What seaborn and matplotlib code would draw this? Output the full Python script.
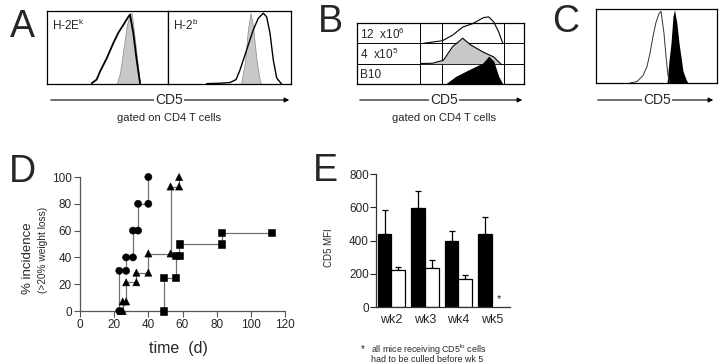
import numpy as np
import pandas as pd
import matplotlib
matplotlib.use("Agg")
import matplotlib.pyplot as plt
import seaborn as sns

# ---- panel A: CD5 histograms (channel 0-100 inside each box, height as fraction of box) ----
a_left_ctrl_ch = [57.6, 60.3, 63.1, 65.8, 68.6, 70.0, 72.7, 75.5, 76.9]
a_left_ctrl_h = [0.0, 0.15, 0.47, 0.79, 0.97, 0.97, 0.60, 0.20, 0.0]
a_left_tg_ch = [36.9, 41.0, 43.8, 49.3, 54.8, 58.9, 63.1, 67.2, 68.6, 71.3, 74.1, 76.9]
a_left_tg_h = [0.01, 0.06, 0.17, 0.35, 0.56, 0.70, 0.81, 0.92, 0.95, 0.70, 0.33, 0.01]

a_right_ctrl_ch = [59.3, 62.6, 65.0, 67.1, 69.1, 71.5, 74.0, 75.6]
a_right_ctrl_h = [0.0, 0.30, 0.75, 0.97, 0.80, 0.40, 0.10, 0.0]
a_right_tg_ch = [31.5, 42.3, 50.4, 55.3, 58.5, 64.0, 69.3, 73.4, 77.5, 80.2, 82.9, 85.6, 88.4, 92.4]
a_right_tg_h = [0.005, 0.01, 0.02, 0.06, 0.19, 0.47, 0.74, 0.90, 0.97, 0.92, 0.70, 0.33, 0.08, 0.0]

a_labels = ["H-2E$^{\\mathregular{k}}$", "H-2$^{\\mathregular{b}}$"]

# ---- panel B: three stacked histograms (height as fraction of one row) ----
b_rows = ["B10", "4  x10$^{\\mathregular{5}}$", "12  x10$^{\\mathregular{6}}$"]
b_hi_ch = [39.8, 51.2, 57.2, 63.3, 69.3, 75.9, 78.9, 81.9, 84.9, 87.3]
b_hi_h = [0.0, 0.13, 0.40, 0.80, 0.97, 1.27, 1.30, 1.05, 0.55, 0.0]
b_lo_ch = [38.0, 45.2, 51.8, 57.2, 63.3, 68.1, 75.3, 81.9, 84.9, 86.1]
b_lo_h = [0.01, 0.02, 0.17, 0.83, 1.25, 0.92, 0.58, 0.33, 0.08, 0.0]
b_b10_ch = [53.0, 59.0, 66.9, 75.3, 78.9, 81.9, 84.9, 87.3]
b_b10_h = [0.0, 0.37, 0.70, 1.03, 1.37, 1.12, 0.37, 0.0]
b_grid_ch = [38.0, 50.6, 88.0]

# ---- panel C ----
c_open_ch = [28.1, 33.9, 38.8, 42.1, 44.6, 47.1, 49.6, 52.1, 53.7, 56.2, 57.9, 59.5, 61.2]
c_open_h = [0.0, 0.02, 0.10, 0.22, 0.40, 0.63, 0.82, 0.94, 0.97, 0.67, 0.35, 0.10, 0.0]
c_fill_ch = [58.7, 60.3, 62.0, 63.6, 64.9, 66.9, 68.6, 71.9, 74.4, 76.0]
c_fill_h = [0.0, 0.30, 0.54, 0.90, 0.99, 0.80, 0.54, 0.16, 0.05, 0.0]

# ---- panel D: incidence curves ----
d_circle_day = [23, 23, 27, 27, 31, 31, 34, 34, 40, 40]
d_circle_pct = [0, 30, 30, 40, 40, 60, 60, 80, 80, 100]
d_tri_day = [24, 25, 25, 27, 27, 33, 33, 40, 40, 53, 53, 58, 58]
d_tri_pct = [0, 0, 7.1, 7.1, 21.4, 21.4, 28.6, 28.6, 42.9, 42.9, 92.9, 92.9, 100]
d_sq_day = [49, 49, 56, 56, 58, 58, 83, 83, 112]
d_sq_pct = [0, 25, 25, 41.7, 41.7, 50, 50, 58.3, 58.3]

# ---- panel E: CD5 MFI ----
e_weeks = ["wk2", "wk3", "wk4", "wk5"]
e_hi = [440, 595, 400, 440]
e_hi_err = [145, 100, 60, 100]
e_lo = [220, 235, 168, np.nan]
e_lo_err = [20, 50, 24, np.nan]

W, H = 720, 364


def px_axes(fig, x0, y0, x1, y1):
    return fig.add_axes([x0 / W, 1 - y1 / H, (x1 - x0) / W, (y1 - y0) / H])


def box_style(ax):
    ax.set_xticks([])
    ax.set_yticks([])
    for s in ax.spines.values():
        s.set_visible(True)
        s.set_linewidth(0.9)
        s.set_color("black")


sns.set_style("white")
plt.rcParams["font.family"] = ["Liberation Sans", "DejaVu Sans"]

fig = plt.figure(figsize=(7.2, 3.64), dpi=100)

ov = fig.add_axes([0, 0, 1, 1])
ov.set_xlim(0, W)
ov.set_ylim(H, 0)
ov.axis("off")

# panel letters
for letter, x, y in [("A", 22, 27), ("B", 330, 22), ("C", 566, 22), ("D", 22, 172), ("E", 325, 171)]:
    ov.text(x, y, letter, fontsize=27, ha="center", va="center")


def cd5_arrow(x0, x1, xc, sub=True):
    ov.annotate("", xy=(x1, 100), xytext=(x0, 100),
                arrowprops=dict(arrowstyle="-|>", color="black", lw=0.8, mutation_scale=7))
    ov.text(xc, 100, "CD5", fontsize=10, ha="center", va="center",
            bbox=dict(facecolor="white", edgecolor="none", pad=1.0))
    if sub:
        ov.text(xc, 118, "gated on CD4 T cells", fontsize=8, ha="center", va="center")


cd5_arrow(48, 292, 169)
cd5_arrow(357, 525, 444)
cd5_arrow(595, 716, 657, sub=False)

# ---- A ----
axA1 = px_axes(fig, 47, 11, 168, 84)
axA1.fill_between(a_left_ctrl_ch, a_left_ctrl_h, color="#c8c8c8", edgecolor="#888888", lw=0.5)
sns.lineplot(x=a_left_tg_ch, y=a_left_tg_h, ax=axA1, color="black", lw=1.3, sort=False, estimator=None)
axA2 = px_axes(fig, 168, 11, 291, 84)
axA2.fill_between(a_right_ctrl_ch, a_right_ctrl_h, color="#c8c8c8", edgecolor="#888888", lw=0.5)
sns.lineplot(x=a_right_tg_ch, y=a_right_tg_h, ax=axA2, color="black", lw=1.0, sort=False, estimator=None)
for ax, lab in zip([axA1, axA2], a_labels):
    ax.set_xlim(0, 100)
    ax.set_ylim(0, 1)
    box_style(ax)
    ax.text(0.04, 0.8, lab, transform=ax.transAxes, fontsize=8.5, ha="left", va="center")

# ---- B ----
axB = px_axes(fig, 357, 23, 524, 84)
axB.set_xlim(0, 100)
axB.set_ylim(0, 3)
box_style(axB)
for g in b_grid_ch:
    axB.axvline(g, color="black", lw=0.7, zorder=0)
for r in [1, 2]:
    axB.axhline(r, color="black", lw=0.7, zorder=0)
axB.plot(b_hi_ch, [2 + v for v in b_hi_h], color="black", lw=0.8, clip_on=False, zorder=3)
axB.fill_between(b_lo_ch, 1, [1 + v for v in b_lo_h], color="#c8c8c8", lw=0, zorder=2)
axB.plot(b_lo_ch, [1 + v for v in b_lo_h], color="black", lw=0.8, zorder=3)
axB.fill_between(b_b10_ch, 0, b_b10_h, color="black", lw=0, zorder=4)
for i, lab in enumerate(b_rows):
    axB.text(2, i + 0.45, lab, fontsize=8.5, ha="left", va="center")

# ---- C ----
axC = px_axes(fig, 596, 9, 717, 83)
axC.set_xlim(0, 100)
axC.set_ylim(0, 1)
box_style(axC)
axC.plot(c_open_ch, c_open_h, color="#333333", lw=0.7)
axC.fill_between(c_fill_ch, 0, c_fill_h, color="black", lw=0)

# ---- D ----
dfD = pd.concat([
    pd.DataFrame({"day": d_circle_day, "pct": d_circle_pct, "group": "circle"}),
    pd.DataFrame({"day": d_tri_day, "pct": d_tri_pct, "group": "tri"}),
    pd.DataFrame({"day": d_sq_day, "pct": d_sq_pct, "group": "sq"}),
], ignore_index=True)
axD = px_axes(fig, 80, 177, 285, 311)
sns.lineplot(data=dfD, x="day", y="pct", units="group", estimator=None, sort=False,
             color="#707070", lw=0.9, ax=axD)
sns.scatterplot(data=dfD, x="day", y="pct", style="group",
                markers={"circle": "o", "tri": "^", "sq": "s"}, color="black",
                s=26, edgecolor="black", legend=False, ax=axD, clip_on=False, zorder=5)
axD.set_xlim(0, 120)
axD.set_ylim(0, 100)
axD.set_xticks(range(0, 121, 20))
axD.set_yticks(range(0, 101, 20))
axD.set_xlabel("")
axD.set_ylabel("")
sns.despine(ax=axD)
for s in ["left", "bottom"]:
    axD.spines[s].set_color("#555555")
    axD.spines[s].set_linewidth(0.9)
axD.tick_params(length=4, width=0.8, color="#555555", labelsize=8.5, pad=2, bottom=True, left=True)
ov.text(28, 258, "% incidence", fontsize=9.5, rotation=90, ha="center", va="center")
ov.text(43, 250, "(>20% weight loss)", fontsize=7.3, rotation=90, ha="center", va="center")
ov.text(178, 348, "time  (d)", fontsize=11.5, ha="center", va="center")

# ---- E ----
rows = []
for w, hv, lv in zip(e_weeks, e_hi, e_lo):
    rows.append({"week": w, "mfi": hv, "group": "hi"})
    if not np.isnan(lv):
        rows.append({"week": w, "mfi": lv, "group": "lo"})
dfE = pd.DataFrame(rows)
axE = px_axes(fig, 376, 174, 510, 307)
sns.barplot(data=dfE, x="week", y="mfi", hue="group", order=e_weeks, hue_order=["hi", "lo"],
            palette={"hi": "black", "lo": "white"}, edgecolor="black", linewidth=0.9,
            width=0.82, gap=0, errorbar=None, legend=False, ax=axE)
off = 0.82 / 4
xs = np.arange(len(e_weeks))
axE.errorbar(xs - off, e_hi, yerr=[np.zeros(len(e_hi)), e_hi_err], fmt="none",
             ecolor="black", elinewidth=0.9, capsize=2, capthick=0.9, zorder=0)
axE.errorbar(xs + off, e_lo, yerr=[np.zeros(len(e_lo)), e_lo_err], fmt="none",
             ecolor="black", elinewidth=0.9, capsize=2, capthick=0.9, zorder=0)
axE.text(3 + off, 45, "*", fontsize=8, ha="center", va="center")
axE.set_xlim(-0.46, 3.54)
axE.set_ylim(0, 800)
axE.set_yticks(range(0, 801, 200))
axE.set_xlabel("")
axE.set_ylabel("")
sns.despine(ax=axE)
for s in ["left", "bottom"]:
    axE.spines[s].set_color("#333333")
    axE.spines[s].set_linewidth(0.9)
axE.tick_params(axis="y", length=4, width=0.8, labelsize=8.5, pad=1, left=True)
axE.tick_params(axis="x", length=0, labelsize=9, pad=5)
ov.text(329, 248, "CD5 MFI", fontsize=7, rotation=90, ha="center", va="center")
ov.text(363, 352, "*", fontsize=7, ha="center", va="baseline")
ov.text(371, 353, "all mice receiving CD5$^{\\mathregular{lo}}$ cells", fontsize=6.4, ha="left", va="baseline")
ov.text(371, 362.5, "had to be culled before wk 5", fontsize=6.4, ha="left", va="baseline")

fig.savefig("out.png", dpi=100)
